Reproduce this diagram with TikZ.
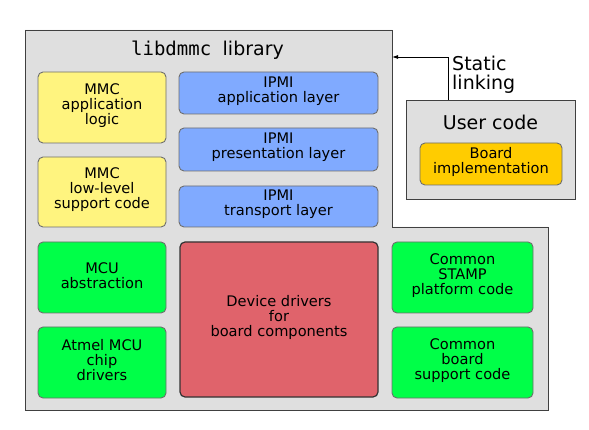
\documentclass[tikz,border=0pt]{standalone}
\usepackage{fontspec}
\setmainfont{DejaVu Sans}
\setmonofont{DejaVu Sans Mono}
\usetikzlibrary{arrows.meta}
\definecolor{libgray}{HTML}{DFDFDF}
\definecolor{ylw}{HTML}{FFF47F}
\definecolor{blu}{HTML}{80AAFF}
\definecolor{grn}{HTML}{00FF48}
\definecolor{rd}{HTML}{E0636B}
\definecolor{gold}{HTML}{FFCC00}
\definecolor{edgegray}{HTML}{6E6E6E}
\tikzset{
  x=1pt, y=-1pt,
  box/.style={draw=edgegray, line width=0.9pt, rounded corners=5pt, inner sep=0pt},
  boxlabel/.style={align=center, inner sep=0pt, yshift=2pt, font=\fontsize{14.6}{15}\selectfont},
  txt/.style={label={[boxlabel]center:#1}},
  container/.style={draw=black!75, line width=0.8pt, fill=libgray},
  bigtext/.style={font=\fontsize{19}{20}\selectfont, inner sep=0pt},
}
\begin{document}
\begin{tikzpicture}
\useasboundingbox (0,0) rectangle (589,430);
% library container
\draw[container] (25,30) -- (392,30) -- (392,227) -- (548,227) -- (548,410) -- (25,410) -- cycle;
\coordinate (libedge) at (392,57);
\node[bigtext] (title) at (207.5,50) {\texttt{libdmmc\ }library};
% yellow
\node[box, fill=ylw, minimum width=128, minimum height=71, txt={MMC\\application\\logic}] (mmcapp) at (102,107.5) {};
\node[box, fill=ylw, minimum width=128, minimum height=70, txt={MMC\\low-level\\support code}] (mmcll) at (102,192) {};
% blue
\node[box, fill=blu, minimum width=199, minimum height=42, txt={IPMI\\application layer}] (ipmiapp) at (278.5,93) {};
\node[box, fill=blu, minimum width=199, minimum height=43, txt={IPMI\\presentation layer}] (ipmipres) at (278.5,149.5) {};
\node[box, fill=blu, minimum width=199, minimum height=41, txt={IPMI\\transport layer}] (ipmitr) at (278.5,206.5) {};
% green left
\node[box, fill=grn, minimum width=128, minimum height=71, txt={MCU\\abstraction}] (mcu) at (102,277.5) {};
\node[box, fill=grn, minimum width=128, minimum height=71, txt={Atmel MCU\\chip\\drivers}] (atmel) at (102,362.5) {};
% red
\node[box, fill=rd, draw=black!80, line width=1.2pt, minimum width=198, minimum height=155, txt={Device drivers\\for\\board components}] (dev) at (279,319.5) {};
% green right
\node[box, fill=grn, minimum width=141, minimum height=71, txt={Common\\STAMP\\platform code}] (stamp) at (462.5,277.5) {};
\node[box, fill=grn, minimum width=141, minimum height=71, txt={Common\\board\\support code}] (bsc) at (462.5,362.5) {};
% user code
\node[container, minimum width=169, minimum height=99, inner sep=0pt] (user) at (490.5,149.5) {};
\node[bigtext] (usertitle) at (490.5,122) {User code};
\node[box, fill=gold, minimum width=142, minimum height=42, txt={Board\\implementation}] (board) at (491,164) {};
% arrow
\coordinate (arrstart) at (448,100);
\draw[line width=0.8pt, -{Latex[length=6pt,width=4pt]}] (arrstart) |- (libedge);
\node[bigtext, anchor=west, align=left, font=\fontsize{19}{19}\selectfont] (static) at (452,75) {Static\\linking};
\end{tikzpicture}
\end{document}
